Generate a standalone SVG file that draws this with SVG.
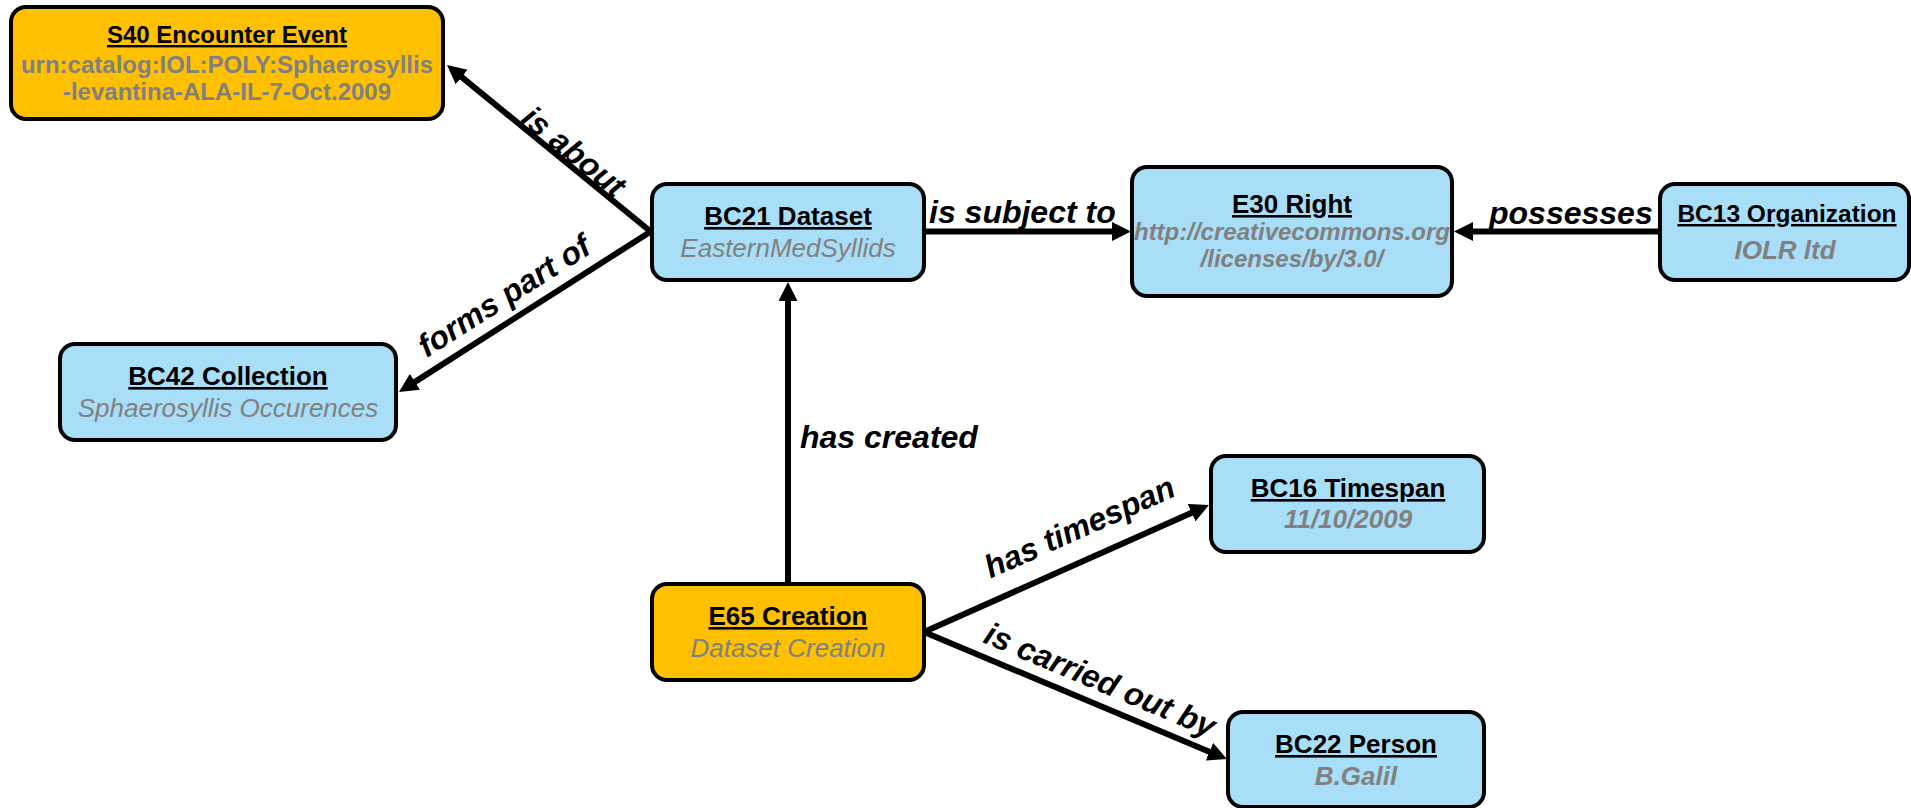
<svg xmlns="http://www.w3.org/2000/svg" width="1911" height="808" viewBox="0 0 1911 808">
  <defs>
    <marker id="ah" markerUnits="userSpaceOnUse" viewBox="0 0 19 19" markerWidth="19" markerHeight="19" refX="7" refY="9.5" orient="auto">
      <path d="M0,0 L19,9.5 L0,19 Z" fill="#000"/>
    </marker>
    <style>
      text { font-family: "Liberation Sans", Arial, sans-serif; }
      .box { stroke: #000; stroke-width: 4; }
      .blue { fill: #A8DEF8; }
      .gold { fill: #FFC000; }
      .t { font-weight: bold; font-size: 26px; text-anchor: middle; text-decoration: underline; fill: #000; }
      .s { font-size: 26px; text-anchor: middle; fill: #808080; }
      .si { font-style: italic; }
      .sbi { font-style: italic; font-weight: bold; }
      .sb { font-weight: bold; }
      .edge { stroke: #000; stroke-width: 6; fill: none; marker-end: url(#ah); }
      .lbl { font-style: italic; font-weight: bold; font-size: 32px; fill: #000; }
    </style>
  </defs>

  <!-- connectors -->
  <g id="connectors">
    <line class="edge" x1="650" y1="231" x2="456.3" y2="72.6"/>
    <line class="edge" x1="650" y1="232" x2="409.1" y2="385.6"/>
    <line class="edge" x1="924" y1="231.5" x2="1119" y2="231.5"/>
    <line class="edge" x1="1660" y1="231.5" x2="1466" y2="231.5"/>
    <line class="edge" x1="788" y1="584" x2="788" y2="294"/>
    <line class="edge" x1="924" y1="632" x2="1198" y2="509.9"/>
    <line class="edge" x1="924" y1="632" x2="1215.9" y2="754.4"/>

    <text class="lbl" text-anchor="middle" transform="translate(567,160) rotate(39.1)">is about</text>
    <text class="lbl" text-anchor="middle" transform="translate(510,305) rotate(-32.5)">forms part of</text>
    <text class="lbl" x="929" y="223">is subject to</text>
    <text class="lbl" x="1489" y="224">possesses</text>
    <text class="lbl" x="800" y="448">has created</text>
    <text class="lbl" text-anchor="middle" transform="translate(1084,537) rotate(-24)">has timespan</text>
    <text class="lbl" text-anchor="middle" transform="translate(1096,690) rotate(22.8)">is carried out by</text>
  </g>

  <!-- nodes -->
  <g id="s40">
    <rect class="box gold" x="11" y="7" width="432" height="112" rx="15"/>
    <text class="t" x="227" y="43" style="font-size:24px">S40 Encounter Event</text>
    <text class="s sb" x="227" y="73" style="font-size:24px">urn:catalog:IOL:POLY:Sphaerosyllis</text>
    <text class="s sb" x="227" y="100" style="font-size:24px">-levantina-ALA-IL-7-Oct.2009</text>
  </g>

  <g id="bc21">
    <rect class="box blue" x="652" y="184" width="272" height="96" rx="15"/>
    <text class="t" x="788" y="225">BC21 Dataset</text>
    <text class="s si" x="788" y="257">EasternMedSyllids</text>
  </g>

  <g id="e30">
    <rect class="box blue" x="1132" y="167" width="320" height="129" rx="15"/>
    <text class="t" x="1292" y="213">E30 Right</text>
    <text class="s sbi" x="1292" y="240" style="font-size:24px">http://creativecommons.org</text>
    <text class="s sbi" x="1292" y="267" style="font-size:24px">/licenses/by/3.0/</text>
  </g>

  <g id="bc13">
    <rect class="box blue" x="1660" y="184" width="249" height="96" rx="15"/>
    <text class="t" x="1787" y="222" style="font-size:24.5px">BC13 Organization</text>
    <text class="s sbi" x="1785" y="259">IOLR ltd</text>
  </g>

  <g id="bc42">
    <rect class="box blue" x="60" y="344" width="336" height="96" rx="15"/>
    <text class="t" x="228" y="385">BC42 Collection</text>
    <text class="s si" x="228" y="417">Sphaerosyllis Occurences</text>
  </g>

  <g id="bc16">
    <rect class="box blue" x="1211" y="456" width="273" height="96" rx="15"/>
    <text class="t" x="1348" y="497">BC16 Timespan</text>
    <text class="s sbi" x="1348" y="528">11/10/2009</text>
  </g>

  <g id="e65">
    <rect class="box gold" x="652" y="584" width="272" height="96" rx="15"/>
    <text class="t" x="788" y="625">E65 Creation</text>
    <text class="s si" x="788" y="657">Dataset Creation</text>
  </g>

  <g id="bc22">
    <rect class="box blue" x="1228" y="712" width="256" height="95" rx="15"/>
    <text class="t" x="1356" y="753">BC22 Person</text>
    <text class="s sbi" x="1356" y="785">B.Galil</text>
  </g>
</svg>
